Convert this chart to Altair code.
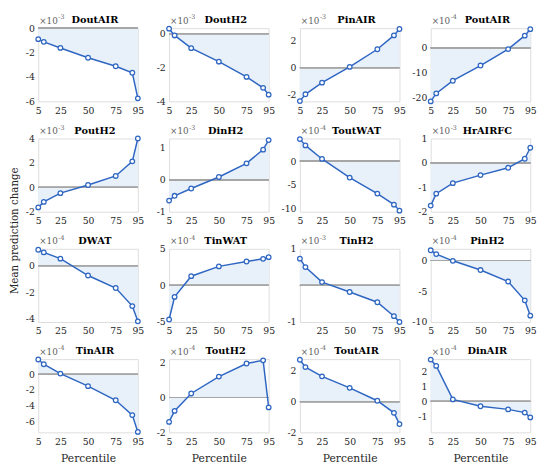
import altair as alt
import pandas as pd

PCT = [5, 10, 25, 50, 75, 90, 95]
NAMES = ["DoutAIR", "DoutH2", "PinAIR", "PoutAIR",
         "PoutH2", "DinH2", "ToutWAT", "HrAIRFC",
         "DWAT", "TinWAT", "TinH2", "PinH2",
         "TinAIR", "ToutH2", "ToutAIR", "DinAIR"]
EXPONENTS = [-3, -3, -3, -4, -3, -3, -4, -3, -4, -4, -3, -4, -4, -4, -4, -4]

DoutAIR = [-0.9, -1.12, -1.62, -2.42, -3.12, -3.65, -5.75]
DoutH2 = [0.3, -0.1, -0.85, -1.65, -2.55, -3.2, -3.6]
PinAIR = [-2.45, -1.95, -1.1, 0.05, 1.34, 2.35, 2.82]
PoutAIR = [-21.5, -18.3, -13.2, -7.1, -0.5, 4.9, 7.5]
PoutH2 = [-1.65, -1.2, -0.48, 0.19, 0.93, 2.13, 4.0]
DinH2 = [-0.65, -0.5, -0.27, 0.09, 0.52, 0.95, 1.25]
ToutWAT = [4.67, 3.33, 0.47, -3.47, -6.87, -9.2, -10.47]
HrAIRFC = [-1.75, -1.26, -0.83, -0.5, -0.2, 0.17, 0.62]
DWAT = [1.2, 1.0, 0.53, -0.74, -1.68, -3.04, -4.19]
TinWAT = [-4.66, -1.57, 1.26, 2.6, 3.27, 3.63, 3.86]
TinH2 = [0.73, 0.5, 0.09, -0.18, -0.46, -0.84, -1.0]
PinH2 = [1.66, 1.04, -0.05, -1.55, -3.42, -6.48, -8.96]
TinAIR = [1.9, 1.3, 0.1, -1.5, -3.3, -5.2, -7.35]
ToutH2 = [-1.4, -0.77, 0.23, 1.2, 1.95, 2.13, -0.57]
ToutAIR = [2.73, 2.25, 1.65, 0.9, 0.06, -0.73, -1.46]
DinAIR = [2.77, 2.35, 0.13, -0.32, -0.53, -0.74, -1.06]

SERIES = [DoutAIR, DoutH2, PinAIR, PoutAIR, PoutH2, DinH2, ToutWAT, HrAIRFC,
          DWAT, TinWAT, TinH2, PinH2, TinAIR, ToutH2, ToutAIR, DinAIR]

Y_DOMAINS = [[-6, 0], [-4, 0.33], [-2.47, 2.88], [-21.5, 7.9],
             [-2, 4], [-1, 1.3], [-10.7, 4.8], [-2, 1],
             [-4.24, 1.27], [-5, 5], [-1, 1], [-10, 1.9],
             [-7.4, 1.95], [-2, 2.2], [-2, 2.77], [-2.05, 2.8]]
Y_TICKS = [[-6, -4, -2, 0], [-4, -2, 0], [-2, 0, 2], [-20, -10, 0],
           [-2, 0, 2, 4], [-1, 0, 1], [-10, -5, 0], [-2, -1, 0, 1],
           [-4, -2, 0], [-5, 0, 5], [-1, 0, 1], [-10, -5, 0],
           [-6, -4, -2, 0], [-2, 0, 2], [-2, 0, 2], [-1, 0, 1, 2]]
X_TICKS = [5, 25, 50, 75, 95]
X_TICKS_TINH2 = [25, 50, 75, 95]

W, H = 102, 75
LINE = "#2E66C2"
FILL = "#E8F0FA"
FONT = "DejaVu Serif"
TXT = "#262626"


def panel(i):
    name = NAMES[i]
    df = pd.DataFrame({"p": PCT, "v": SERIES[i]})
    bottom = i >= 12
    xvals = X_TICKS_TINH2 if name == "TinH2" else X_TICKS
    xaxis_kw = dict(values=xvals, labelFont=FONT, labelFontSize=9.5, labelColor=TXT,
                    domain=False, ticks=False, grid=False, labelPadding=4,
                    labelFlush=False, labelOverlap=False, format="d")
    if bottom:
        xaxis_kw.update(title="Percentile", titleFont=FONT, titleFontSize=11,
                        titleFontWeight="normal", titleColor=TXT, titlePadding=7)
    else:
        xaxis_kw.update(title=None)
    yaxis_kw = dict(values=Y_TICKS[i], labelFont=FONT, labelFontSize=9.5, labelColor=TXT,
                    domain=False, ticks=False, grid=False, labelPadding=4,
                    labelOverlap=False, format="d")
    if i == 4:
        yaxis_kw.update(title="Mean prediction change", titleFont=FONT, titleFontSize=10.5,
                        titleFontWeight="normal", titleColor=TXT,
                        titleX=-19, titleY=H + 19, titleAlign="center")
    else:
        yaxis_kw.update(title=None)

    yscale = alt.Scale(domain=Y_DOMAINS[i], nice=False, zero=False)
    x = alt.X("p:Q", scale=alt.Scale(domain=[5, 95], nice=False, zero=False),
              axis=alt.Axis(**xaxis_kw))
    y = alt.Y("v:Q", scale=yscale, axis=alt.Axis(**yaxis_kw))
    base = alt.Chart(df)
    area = base.mark_area(color=FILL, opacity=1).encode(x=x, y=y, y2=alt.datum(0))
    zero = base.mark_rule(color="#A6A6A6", strokeWidth=1.2).encode(
        y=alt.YDatum(0, scale=yscale, axis=alt.Axis(**yaxis_kw)))
    line = base.mark_line(
        color=LINE, strokeWidth=1.5,
        point=alt.OverlayMarkDef(filled=False, fill="white", color=LINE, size=22, strokeWidth=1.3),
    ).encode(x=x, y=y)

    tdf = pd.DataFrame({"t": [name], "b": ["\u00d710"], "e": [str(EXPONENTS[i])]})
    tb = alt.Chart(tdf)
    title = tb.mark_text(font=FONT, fontSize=10, fontWeight="bold", color="#000000",
                         align="center", baseline="alphabetic").encode(
        text="t:N", x=alt.value(W / 2 + 7), y=alt.value(-5))
    base10 = tb.mark_text(font=FONT, fontSize=9, color="#606060",
                          align="left", baseline="alphabetic").encode(
        text="b:N", x=alt.value(1), y=alt.value(-4.5))
    expo = tb.mark_text(font=FONT, fontSize=6.5, color="#606060",
                        align="left", baseline="alphabetic").encode(
        text="e:N", x=alt.value(20.5), y=alt.value(-9))
    return alt.layer(area, zero, line, title, base10, expo).properties(width=W, height=H)


charts = [panel(i) for i in range(16)]
chart = alt.concat(*charts, columns=4, spacing=alt.RowColnumber(row=38, column=32),
                   bounds="flush").properties(
    padding={"left": 1, "top": 0, "right": 5, "bottom": 5}
).configure_view(stroke="#3a3a3a", strokeWidth=0.8).configure(
    font=FONT, background="white",
    locale={"number": {"decimal": ".", "thousands": ",", "grouping": [3],
                       "currency": ["$", ""], "minus": "-"}})

chart.save("out.html", embed_options={"renderer": "svg", "actions": False})
